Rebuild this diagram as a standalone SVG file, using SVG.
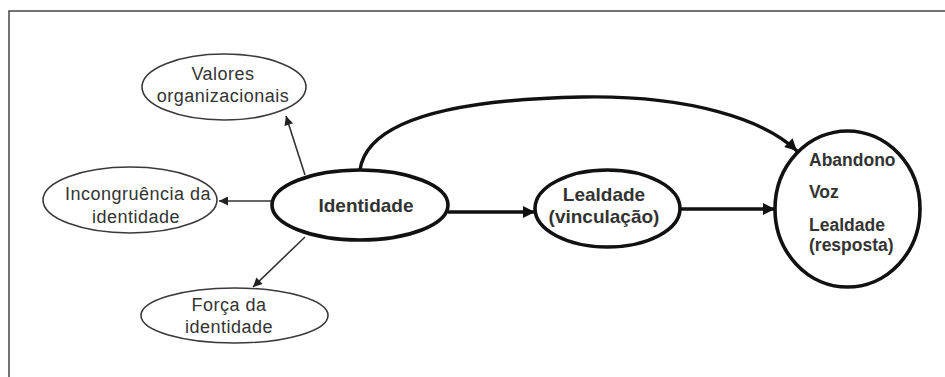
<svg xmlns="http://www.w3.org/2000/svg" width="945" height="377" viewBox="0 0 945 377">
<defs>
<style>
.bg{fill:#ffffff}
.frame{fill:none;stroke:#444;stroke-width:1.5}
.thin{fill:#fff;stroke:#3a3a3a;stroke-width:1.6}
.thick{fill:#fff;stroke:#111;stroke-width:3.6}
.t{font-family:"Liberation Sans",Arial,sans-serif;font-size:18px;fill:#333;text-anchor:middle;letter-spacing:0.5px}
.b{font-family:"Liberation Sans",Arial,sans-serif;font-size:19px;font-weight:bold;fill:#333;text-anchor:middle}
.bl{font-family:"Liberation Sans",Arial,sans-serif;font-size:17.5px;font-weight:bold;fill:#333;text-anchor:start}
.ct{fill:none;stroke:#333;stroke-width:1.6}
.ck{fill:none;stroke:#111;stroke-width:3.4}
</style>
<marker id="ah" viewBox="0 0 10 10" refX="10" refY="5" markerWidth="10" markerHeight="9" markerUnits="userSpaceOnUse" orient="auto">
<path d="M0,0 L10,5 L0,10 z" fill="#222"/>
</marker>
<marker id="ahk" viewBox="0 0 10 10" refX="10" refY="5" markerWidth="13" markerHeight="12" markerUnits="userSpaceOnUse" orient="auto">
<path d="M0,0 L10,5 L0,10 z" fill="#111"/>
</marker>
</defs>
<rect class="bg" x="0" y="0" width="945" height="377"/>
<path class="frame" d="M9,377 L9,11 L945,11"/>

<g id="connectors">
<line class="ct" x1="305" y1="175" x2="286" y2="116" marker-end="url(#ah)"/>
<line class="ct" x1="273" y1="201" x2="219" y2="201" marker-end="url(#ah)"/>
<line class="ct" x1="305" y1="237" x2="253" y2="287" marker-end="url(#ah)"/>
<line class="ck" x1="448" y1="212" x2="535" y2="212" marker-end="url(#ahk)"/>
<line class="ck" x1="680" y1="209" x2="775" y2="209" marker-end="url(#ahk)"/>
<path class="ck" d="M360,170 C366,128 430,100 582,97 C690,95 765,120 797,151" marker-end="url(#ahk)"/>
</g>

<g id="valores">
<ellipse class="thin" cx="224" cy="87" rx="82" ry="33"/>
<text class="t" x="223" y="80">Valores</text>
<text class="t" x="223" y="102">organizacionais</text>
</g>

<g id="incongruencia">
<ellipse class="thin" cx="130" cy="200" rx="87" ry="33"/>
<text class="t" x="138" y="200">Incongruência da</text>
<text class="t" x="136" y="223">identidade</text>
</g>

<g id="forca">
<ellipse class="thin" cx="234.5" cy="315.5" rx="93.5" ry="27.5"/>
<text class="t" x="229" y="311">Força da</text>
<text class="t" x="229" y="333">identidade</text>
</g>

<g id="identidade">
<ellipse class="thick" cx="360" cy="205" rx="88" ry="35"/>
<text class="b" x="366" y="212">Identidade</text>
</g>

<g id="lealdade">
<ellipse class="thick" cx="607.5" cy="208.5" rx="72.5" ry="38.5"/>
<text class="b" x="604" y="201">Lealdade</text>
<text class="b" x="604" y="223">(vinculação)</text>
</g>

<g id="respostas">
<ellipse class="thick" cx="847.5" cy="209" rx="72.5" ry="78"/>
<text class="bl" x="809" y="166">Abandono</text>
<text class="bl" x="809" y="198">Voz</text>
<text class="bl" x="809" y="231">Lealdade</text>
<text class="bl" x="809" y="251">(resposta)</text>
</g>
</svg>
